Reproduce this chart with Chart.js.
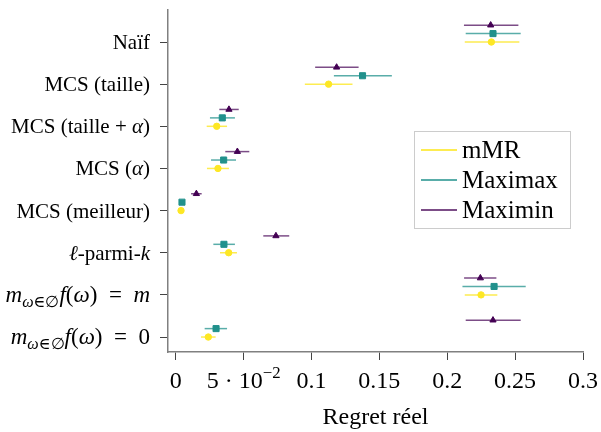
<!DOCTYPE html>
<html>
<head>
<meta charset="utf-8">
<script src="https://cdn.jsdelivr.net/npm/chart.js@4"></script>
<style>
  body { margin: 0; background: #fff; }
  canvas { display: block; }
</style>
</head>
<body>
<canvas id="regretChart" width="601" height="432"></canvas>
<script>
// categories from top to bottom, *...* = italic, _{...} = subscript, ^{...} = superscript
const categories = ['Naïf', 'MCS (taille)', 'MCS (taille + *α*)', 'MCS (*α*)', 'MCS (meilleur)',
                    '*ℓ*-parmi-*k*', '*m*_{*ω*∈∅}*f*(*ω*) = *m*', '*m*_{*ω*∈∅}*f*(*ω*) = 0'];

const mmrMean  = [0.2325, 0.1126, 0.0302, 0.0311, 0.0039, 0.0390, 0.2249, 0.0240];
const mmrLow   = [0.2129, 0.0951, 0.0228, 0.0230, 0.0039, 0.0326, 0.2129, 0.0186];
const mmrHigh  = [0.2531, 0.1302, 0.0378, 0.0392, 0.0039, 0.0451, 0.2369, 0.0294];

const maximaxMean = [0.2337, 0.1376, 0.0343, 0.0353, 0.0046, 0.0355, 0.2345, 0.0297];
const maximaxLow  = [0.2136, 0.1165, 0.0252, 0.0260, 0.0046, 0.0277, 0.2112, 0.0213];
const maximaxHigh = [0.2541, 0.1592, 0.0436, 0.0444, 0.0046, 0.0436, 0.2578, 0.0378];

const maximinMean = [0.2320, 0.1185, 0.0392, 0.0454, 0.0152, 0.0738, 0.2244, 0.2337];
const maximinLow  = [0.2123, 0.1027, 0.0321, 0.0365, 0.0113, 0.0645, 0.2124, 0.2136];
const maximinHigh = [0.2524, 0.1347, 0.0464, 0.0542, 0.0191, 0.0836, 0.2362, 0.2541];

const xTickValues = [0, 0.05, 0.1, 0.15, 0.2, 0.25, 0.3];
const xTickLabels = ['0', '5 · 10^{−2}', '0.1', '0.15', '0.2', '0.25', '0.3'];

const SERIF = '"Liberation Serif", "DejaVu Serif", serif';

// category position on the y axis (top row = highest value)
const catPos = categories.map((c, i) => categories.length - 1 - i);

function points(values, shift) {
  return values.map((v, i) => ({ x: v, y: catPos[i] + shift }));
}

// tiny markup parser for the labels
function parseRich(str) {
  const segs = [];
  let italic = false, level = 0, buf = '';
  const push = () => { if (buf) segs.push({ t: buf, it: italic, lv: level }); buf = ''; };
  for (let i = 0; i < str.length; i++) {
    const c = str[i];
    if (c === '*') { push(); italic = !italic; }
    else if ((c === '_' || c === '^') && str[i + 1] === '{') { push(); level = c === '_' ? -1 : 1; i++; }
    else if (c === '}' && level !== 0) { push(); level = 0; }
    else buf += c;
  }
  push();
  return segs;
}

function drawRich(ctx, str, x, baseline, size, align) {
  const segs = parseRich(str);
  const fontOf = s => (s.it ? 'italic ' : '') + (s.lv ? size * 0.7 : size) + 'px ' + SERIF;
  let width = 0;
  segs.forEach(s => { ctx.font = fontOf(s); s.w = ctx.measureText(s.t).width; width += s.w; });
  let cx = align === 'right' ? x - width : x - width / 2;
  ctx.textAlign = 'left';
  ctx.textBaseline = 'alphabetic';
  segs.forEach(s => {
    ctx.font = fontOf(s);
    const dy = s.lv === -1 ? size * 0.22 : s.lv === 1 ? -size * 0.4 : 0;
    ctx.fillText(s.t, cx, baseline + dy);
    cx += s.w;
  });
}

const errorBars = {
  id: 'errorBars',
  beforeDatasetsDraw(chart) {
    const { ctx, scales: { x, y } } = chart;
    chart.data.datasets.forEach(ds => {
      ctx.save();
      ctx.strokeStyle = ds.barColor;
      ctx.lineWidth = 1.5;
      ds.data.forEach((p, i) => {
        const py = y.getPixelForValue(p.y);
        ctx.beginPath();
        ctx.moveTo(x.getPixelForValue(ds.low[i]), py);
        ctx.lineTo(x.getPixelForValue(ds.high[i]), py);
        ctx.stroke();
      });
      ctx.restore();
    });
  }
};

const richLabels = {
  id: 'richLabels',
  afterDraw(chart) {
    const { ctx, scales: { x, y } } = chart;
    ctx.save();
    ctx.fillStyle = '#000';
    catPos.forEach((v, i) => {
      // the formula labels are set in a wider math size
      const math = categories[i].includes('_{');
      drawRich(ctx, math ? categories[i].replace(' = ', '\u2002=\u2002') : categories[i],
               150, y.getPixelForValue(v) + 7, math ? 23 : 21, 'right');
    });
    xTickValues.forEach((v, i) => {
      drawRich(ctx, xTickLabels[i], x.getPixelForValue(v), 388, 24, 'center');
    });
    ctx.restore();
  }
};

const boxLegend = {
  id: 'boxLegend',
  afterDraw(chart) {
    const ctx = chart.ctx;
    ctx.save();
    ctx.fillStyle = '#fff';
    ctx.strokeStyle = '#cccccc';
    ctx.lineWidth = 1;
    ctx.fillRect(414.5, 131.5, 156, 97);
    ctx.strokeRect(414.5, 131.5, 156, 97);
    chart.data.datasets.forEach((ds, i) => {
      const ly = 150 + i * 30;
      ctx.strokeStyle = ds.barColor;
      ctx.lineWidth = 1.8;
      ctx.beginPath();
      ctx.moveTo(421, ly);
      ctx.lineTo(457, ly);
      ctx.stroke();
      ctx.fillStyle = '#000';
      ctx.font = '25px ' + SERIF;
      ctx.textAlign = 'left';
      ctx.textBaseline = 'alphabetic';
      ctx.fillText(ds.label, 462, ly + 8);
    });
    ctx.restore();
  }
};

new Chart(document.getElementById('regretChart'), {
  type: 'scatter',
  data: {
    datasets: [
      {
        label: 'mMR', data: points(mmrMean, 0), low: mmrLow, high: mmrHigh,
        pointStyle: 'circle', pointRadius: 3.2,
        backgroundColor: '#fde725', borderColor: '#fde725', barColor: 'rgba(253,231,37,0.8)'
      },
      {
        label: 'Maximax', data: points(maximaxMean, 0.2), low: maximaxLow, high: maximaxHigh,
        pointStyle: 'rect', pointRadius: 4.3,
        backgroundColor: '#21918c', borderColor: '#21918c', barColor: 'rgba(33,145,140,0.75)'
      },
      {
        label: 'Maximin', data: points(maximinMean, 0.4), low: maximinLow, high: maximinHigh,
        pointStyle: 'triangle', pointRadius: 3.6,
        backgroundColor: '#440154', borderColor: '#440154', barColor: 'rgba(68,1,84,0.7)'
      }
    ]
  },
  options: {
    responsive: false,
    animation: false,
    layout: { padding: { top: 8, right: 18, left: 0, bottom: 0 } },
    plugins: { legend: { display: false }, tooltip: { enabled: false } },
    scales: {
      x: {
        type: 'linear',
        min: -0.0057,
        max: 0.3,
        afterBuildTicks: s => { s.ticks = xTickValues.map(v => ({ value: v })); },
        afterFit: s => { s.height = 80; },
        ticks: { callback: () => '', autoSkip: false },
        grid: { display: true, drawOnChartArea: false, drawTicks: true, tickLength: 8, color: '#444', lineWidth: 1 },
        border: { display: true, color: '#808080', width: 1.5 },
        title: { display: true, text: 'Regret réel', color: '#000',
                 font: { family: SERIF, size: 24 }, padding: { top: 0, bottom: 0 } }
      },
      y: {
        type: 'linear',
        min: -0.355,
        max: 7.755,
        afterBuildTicks: s => { s.ticks = catPos.map(v => ({ value: v })); },
        afterFit: s => { s.width = 168; },
        ticks: { callback: () => '', autoSkip: false },
        grid: { display: true, drawOnChartArea: false, drawTicks: true, tickLength: 8, color: '#444', lineWidth: 1 },
        border: { display: true, color: '#808080', width: 1.5 }
      }
    }
  },
  plugins: [errorBars, richLabels, boxLegend]
});
</script>
</body>
</html>
